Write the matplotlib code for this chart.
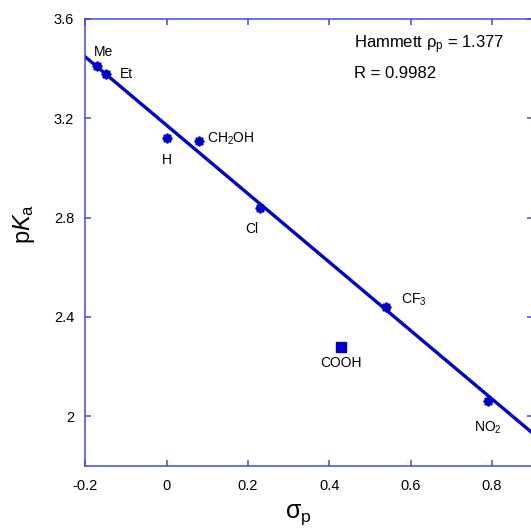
import matplotlib
matplotlib.use('Agg')
import matplotlib.pyplot as plt
import numpy as np

# Hammett plot data (sigma_p vs pKa)
substituents = ['Me', 'Et', 'H', 'CH$_2$OH', 'Cl', 'CF$_3$', 'NO$_2$']
sigma_p = [-0.17, -0.15, 0.0, 0.08, 0.23, 0.54, 0.79]
pka = [3.41, 3.38, 3.12, 3.11, 2.84, 2.44, 2.06]

# outlier, not part of the fit
outlier_name = 'COOH'
outlier_sigma = [0.43]
outlier_pka = [2.28]

# fit line
fit_rho = 1.377
fit_intercept = 3.172
fit_r = 0.9982

# label offsets in points (dx, dy, ha)
label_offsets = [(4, 10, 'center'), (15, 0, 'center'), (0, -16, 'center'),
                 (6, 1, 'left'), (-6, -15, 'center'), (11, 5, 'left'),
                 (0, -19, 'center')]

DATA_BLUE = '#0000CC'
AXIS_BLUE = '#4848E0'

plt.rcParams['font.family'] = ['Liberation Sans', 'DejaVu Sans']
plt.rcParams['mathtext.fontset'] = 'custom'
plt.rcParams['mathtext.rm'] = 'Liberation Sans'
plt.rcParams['mathtext.it'] = 'Liberation Sans:italic'
plt.rcParams['mathtext.default'] = 'regular'

fig = plt.figure(figsize=(5.31, 5.31), dpi=100)
ax = fig.add_axes([85.3 / 531, 1 - 466 / 531, (532.5 - 85.3) / 531, (466 - 19) / 531])

xlim = (-0.2, 0.9)
ylim = (1.8, 3.6)

# regression line
xs = np.array(xlim)
ax.plot(xs, fit_intercept - fit_rho * xs, color=DATA_BLUE, lw=2.4, zorder=2)

# points
ax.plot(sigma_p, pka, 'o', color=DATA_BLUE, ms=5.5, zorder=3)
ax.plot(sigma_p, pka, marker=(8, 2, 0), ls='none', color=DATA_BLUE, ms=7, mew=1.2, zorder=3)
ax.plot(outlier_sigma, outlier_pka, 's', color=DATA_BLUE, ms=7, zorder=3)

for name, x, y, (dx, dy, ha) in zip(substituents, sigma_p, pka, label_offsets):
    ax.annotate(name, (x, y), xytext=(dx, dy), textcoords='offset points',
                ha=ha, va='center', fontsize=10)
ax.annotate(outlier_name, (outlier_sigma[0], outlier_pka[0]), xytext=(0, -12),
            textcoords='offset points', ha='center', va='center', fontsize=10)

ax.text(0.46, 3.495, r'Hammett $\rho_p$ = %.3f' % fit_rho, fontsize=12, va='center')
ax.text(0.46, 3.382, 'R = %.4f' % fit_r, fontsize=12, va='center')

ax.set_xlim(*xlim)
ax.set_ylim(*ylim)
ax.set_xticks([-0.2, 0, 0.2, 0.4, 0.6, 0.8])
ax.set_xticklabels(['-0.2', '0', '0.2', '0.4', '0.6', '0.8'])
ax.set_yticks([2.0, 2.4, 2.8, 3.2, 3.6])
ax.set_yticklabels(['2', '2.4', '2.8', '3.2', '3.6'])

for sp in ax.spines.values():
    sp.set_color(AXIS_BLUE)
    sp.set_linewidth(1.1)
ax.tick_params(direction='in', length=4.5, width=1.1, color=AXIS_BLUE,
               top=True, right=True, labelsize=10.5, labelcolor='black')
ax.tick_params(axis='x', pad=9)
ax.tick_params(axis='y', pad=8)

fig.text(24 / 531, 1 - 224 / 531, r'p$\mathit{K}_a$', rotation=90,
         ha='center', va='center', fontsize=17)
fig.text(298 / 531, 1 - 515 / 531, r'$\sigma_p$', ha='center', va='center', fontsize=18)

fig.savefig('out.png', dpi=100, facecolor='white')
